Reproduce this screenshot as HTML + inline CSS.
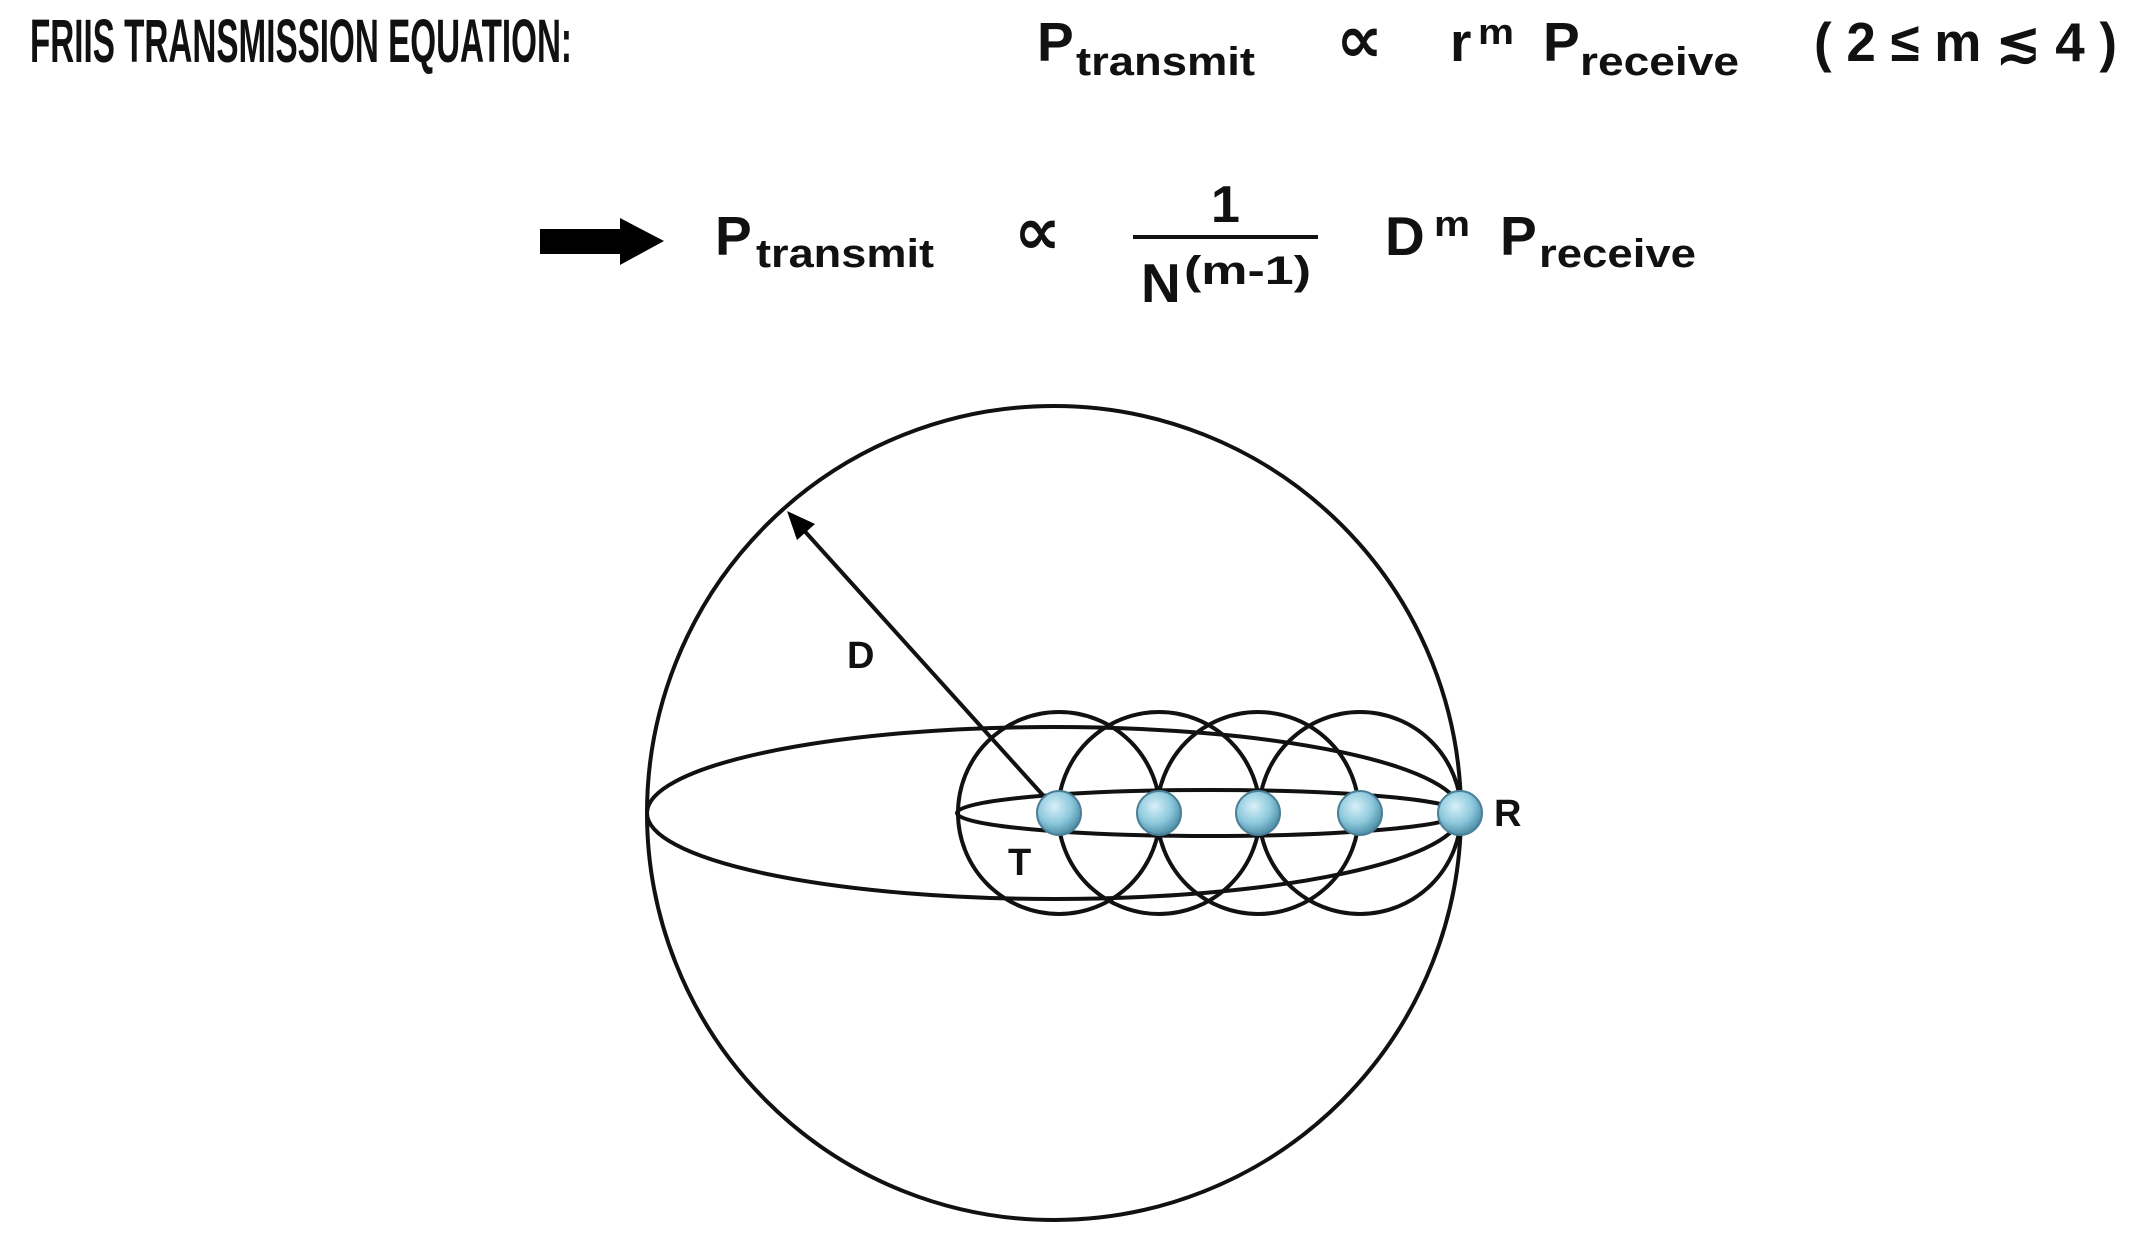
<!DOCTYPE html>
<html><head><meta charset="utf-8"><style>html,body{margin:0;padding:0;background:#fff}svg{display:block}
text{font-family:"Liberation Sans",Arial,sans-serif;font-weight:bold}</style></head>
<body>
<svg width="2135" height="1237" viewBox="0 0 2135 1237" xmlns="http://www.w3.org/2000/svg" fill="#111">
<defs>
<radialGradient id="g" cx="40%" cy="35%" r="65%"><stop offset="0" stop-color="#d8f0f8"/><stop offset="0.6" stop-color="#8cc8dc"/><stop offset="1" stop-color="#4f8fa8"/></radialGradient>
</defs>
<!-- title -->
<text x="30" y="62" font-size="61" textLength="542" lengthAdjust="spacingAndGlyphs">FRIIS TRANSMISSION EQUATION:</text>
<text x="1037" y="61" font-size="55">P</text>
<text x="1076" y="75" font-size="40" textLength="179" lengthAdjust="spacingAndGlyphs">transmit</text>
<text x="1336" y="62" font-size="66" style="font-family:'DejaVu Sans',sans-serif;font-weight:bold">∝</text>
<text x="1450" y="61" font-size="55">r</text>
<text x="1478" y="44" font-size="36" textLength="36" lengthAdjust="spacingAndGlyphs">m</text>
<text x="1543" y="61" font-size="55">P</text>
<text x="1580" y="75" font-size="40" textLength="159" lengthAdjust="spacingAndGlyphs">receive</text>
<text x="1814" y="61" font-size="55" textLength="303" lengthAdjust="spacingAndGlyphs">( 2 ≤ m ≲ 4 )</text>
<!-- second line -->
<polygon points="540,229 620,229 620,218 664,241 620,265 620,254 540,254" fill="#000"/>
<text x="715" y="255" font-size="55">P</text>
<text x="756" y="267" font-size="40" textLength="178" lengthAdjust="spacingAndGlyphs">transmit</text>
<text x="1014" y="254" font-size="66" style="font-family:'DejaVu Sans',sans-serif;font-weight:bold">∝</text>
<text x="1211" y="222" font-size="52">1</text>
<line x1="1133" y1="237" x2="1318" y2="237" stroke="#111" stroke-width="4"/>
<text x="1141" y="302" font-size="55">N</text>
<text x="1184" y="284" font-size="40" textLength="127" lengthAdjust="spacingAndGlyphs">(m-1)</text>
<text x="1385" y="255" font-size="55">D</text>
<text x="1434" y="236" font-size="36" textLength="36" lengthAdjust="spacingAndGlyphs">m</text>
<text x="1500" y="255" font-size="55">P</text>
<text x="1539" y="267" font-size="40" textLength="157" lengthAdjust="spacingAndGlyphs">receive</text>
<!-- diagram -->
<g fill="none" stroke="#111" stroke-width="4">
<circle cx="1054" cy="813" r="407"/>
<ellipse cx="1054" cy="813" rx="407" ry="86"/>
<ellipse cx="1209" cy="813" rx="252" ry="23"/>
<circle cx="1059" cy="813" r="101"/>
<circle cx="1159" cy="813" r="101"/>
<circle cx="1258" cy="813" r="101"/>
<circle cx="1360" cy="813" r="101"/>
<line x1="1059" y1="813" x2="800" y2="526"/>
</g>
<polygon points="787,511 815,524 797,540" fill="#000"/>
<g fill="url(#g)" stroke="#4a7f96" stroke-width="2">
<circle cx="1059" cy="813" r="22"/>
<circle cx="1159" cy="813" r="22"/>
<circle cx="1258" cy="813" r="22"/>
<circle cx="1360" cy="813" r="22"/>
<circle cx="1460" cy="813" r="22"/>
</g>
<text x="847" y="668" font-size="38">D</text>
<text x="1008" y="875" font-size="38">T</text>
<text x="1494" y="826" font-size="38">R</text>
</svg>
</body></html>
